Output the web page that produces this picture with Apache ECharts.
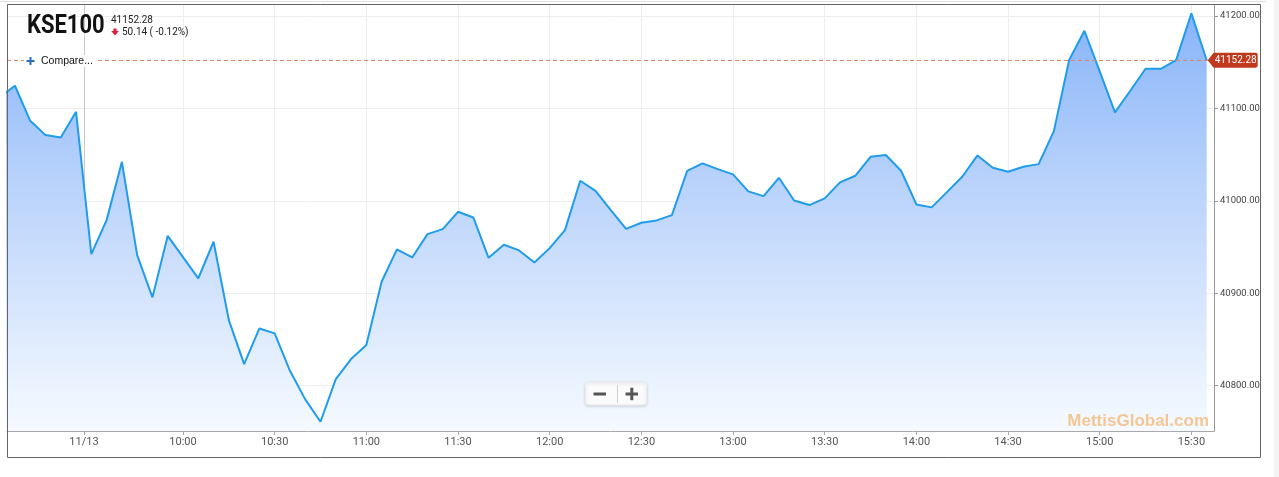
<!DOCTYPE html>
<html><head><meta charset="utf-8">
<script src="https://cdn.jsdelivr.net/npm/echarts@6/dist/echarts.min.js"></script>
<style>html,body{margin:0;padding:0;background:#fff;overflow:hidden}#c{width:1279px;height:477px;}</style>
</head><body><div id="c"></div>
<script>
// ---- data ----
const times = [
 '9:00','9:05','9:10','9:15','9:20','9:25','9:30','9:35','9:40','9:45','9:50','9:55',
 '10:00','10:05','10:10','10:15','10:20','10:25','10:30','10:35','10:40','10:45','10:50','10:55',
 '11:00','11:05','11:10','11:15','11:20','11:25','11:30','11:35','11:40','11:45','11:50','11:55',
 '12:00','12:05','12:10','12:15','12:20','12:25','12:30','12:35','12:40','12:45','12:50','12:55',
 '13:00','13:05','13:10','13:15','13:20','13:25','13:30','13:35','13:40','13:45','13:50','13:55',
 '14:00','14:05','14:10','14:15','14:20','14:25','14:30','14:35','14:40','14:45','14:50','14:55',
 '15:00','15:05','15:10','15:15','15:20','15:25','15:30','15:35'];
const values = [
 41112,41124.6,41086.7,41071.2,41068.7,41096.4,40942.4,40979.2,41042.3,40941.3,40895.6,40962.2,
 40939.2,40916.1,40955.8,40871,40823.4,40862,40856.6,40816.1,40785.2,40761,40807.1,40828.8,
 40844,40912.5,40947.5,40938.8,40964.1,40969.5,40988.2,40982.1,40938.4,40952.5,40946.4,40933.4,
 40948.9,40968.4,41021.8,41010.9,40990,40969.8,40976.3,40978.9,40984.6,41032.6,41040.6,41034.4,
 41028.7,41010.3,41005.2,41025,41000.5,40995.5,41002.7,41020,41027.2,41047.7,41049.6,41032.6,
 40996.2,40993,41009.5,41026.1,41049.2,41035.8,41031.5,41036.9,41039.8,41075.5,41152.4,41184.1,
 41140.2,41095.8,41119.2,41143,41143,41152.4,41202.9,41152.28];
const xTickValues = [567.6,600,630,660,690,720,750,780,810,840,870,900,930];
const xTickLabels = ['11/13','10:00','10:30','11:00','11:30','12:00','12:30','13:00','13:30','14:00','14:30','15:00','15:30'];
const yTickValues = [40800,40900,41000,41100,41200];
const lastPrice = 41152.28;
const symbolName = 'KSE100';
const changeText = '50.14 ( -0.12%)';

const toMin = t => { const p = t.split(':'); return (+p[0]) * 60 + (+p[1]); };
const seriesData = times.map((t, i) => [toMin(t), values[i]]);

const chart = echarts.init(document.getElementById('c'), null, {renderer: 'canvas'});
const splitColors = xTickValues.map((v, i) => i === 0 ? '#c9c9c9' : '#ededed');

chart.setOption({
  animation: false,
  backgroundColor: '#fff',
  grid: {left: 7, right: 65, top: 5, bottom: 46},
  xAxis: {
    type: 'value', min: 542.4, max: 937.4,
    axisLine: {show: true, lineStyle: {color: '#a8a8a8'}},
    axisTick: {show: true, customValues: xTickValues, length: 4, lineStyle: {color: '#a8a8a8'}},
    axisLabel: {
      customValues: xTickValues, color: '#555', fontSize: 11, fontFamily: 'Roboto', margin: 6,
      formatter: v => { const i = xTickValues.findIndex(x => Math.abs(x - v) < 0.01); return i >= 0 ? xTickLabels[i] : ''; }
    },
    splitLine: {show: true, lineStyle: {color: splitColors, width: 1}}
  },
  yAxis: {
    type: 'value', position: 'right', min: 40751, max: 41212,
    axisLine: {show: true, lineStyle: {color: '#999'}},
    axisTick: {show: true, customValues: yTickValues, length: 4, lineStyle: {color: '#999'}},
    axisLabel: {customValues: yTickValues, color: '#444', fontSize: 9.5, fontFamily: 'Roboto', margin: 6,
      formatter: v => v.toFixed(2)},
    splitLine: {show: true, lineStyle: {color: '#ededed'}}
  },
  series: [{
    type: 'line', data: seriesData, showSymbol: false, clip: true, silent: true,
    lineStyle: {color: '#1f9cec', width: 2},
    areaStyle: {opacity: 1, color: new echarts.graphic.LinearGradient(0, 0, 0, 1, [
      {offset: 0, color: '#88b4f9'}, {offset: 0.4, color: '#b8d2fb'}, {offset: 1, color: '#f6faff'}])},
    markLine: {
      silent: true, symbol: 'none', label: {show: false},
      lineStyle: {type: [4, 3], color: '#d98a6c', width: 1},
      data: [{yAxis: lastPrice}]
    },
    markPoint: {
      silent: true,
      data: [{
        coord: [935, lastPrice],
        symbol: 'path://M0,7 L6,0 L48,0 Q50,0 50,2 L50,12 Q50,14 48,14 L6,14 Z',
        symbolSize: [50, 15], symbolOffset: [26, 0],
        itemStyle: {color: '#c1391c'},
        label: {show: true, position: 'inside', offset: [3, 0], formatter: lastPrice.toFixed(2),
          color: '#fff', fontSize: 10, fontFamily: 'Roboto'}
      }]
    }
  }],
  graphic: [
    {type: 'line', shape: {x1: 0, y1: 1.5, x2: 1266, y2: 1.5}, style: {stroke: '#dedede', lineWidth: 1}, z: 100},
    {type: 'rect', shape: {x: 1274, y: 0, width: 5, height: 477}, style: {fill: '#f3f3f3'}, z: 100},
    {type: 'rect', shape: {x: 7.5, y: 4.5, width: 1253, height: 453}, style: {fill: 'none', stroke: '#666', lineWidth: 1}, z: 100},
    {type: 'text', x: 27, y: 26.5, scaleX: 0.845, style: {text: symbolName, font: 'bold 26px Roboto, sans-serif',
      fill: '#111', textVerticalAlign: 'middle'}, z: 100},
    {type: 'text', x: 111, y: 20.5, style: {text: lastPrice.toFixed(2), font: '10px Roboto', fill: '#222', textVerticalAlign: 'middle'}, z: 100},
    {type: 'polygon', shape: {points: [[113.5,28.5],[116.5,28.5],[116.5,31],[118.8,31],[115,35.5],[111.2,31],[113.5,31]]},
      style: {fill: '#e5173b'}, z: 100},
    {type: 'text', x: 122, y: 32.5, style: {text: changeText, font: '10px Roboto', fill: '#222', textVerticalAlign: 'middle'}, z: 100},
    {type: 'rect', shape: {x: 24, y: 55, width: 71, height: 12}, style: {fill: '#fff'}, z: 99},
    {type: 'rect', shape: {x: 26.5, y: 60, width: 8, height: 2}, style: {fill: '#2a6fc0'}, z: 100},
    {type: 'rect', shape: {x: 29.5, y: 57, width: 2, height: 8}, style: {fill: '#2a6fc0'}, z: 100},
    {type: 'text', x: 41, y: 61, style: {text: 'Compare...', font: '10.5px "Liberation Sans", Arial, sans-serif', fill: '#111', textVerticalAlign: 'middle'}, z: 100},
    {type: 'rect', shape: {x: 585.5, y: 382.5, width: 61, height: 22.5, r: 3},
      style: {fill: '#fbfbfb', stroke: '#eeeeee', lineWidth: 1, shadowBlur: 3, shadowColor: 'rgba(0,0,0,0.15)', shadowOffsetY: 1}, z: 100},
    {type: 'line', shape: {x1: 617.5, y1: 385, x2: 617.5, y2: 403}, style: {stroke: '#d0d0d0', lineWidth: 1}, z: 101},
    {type: 'rect', shape: {x: 593.5, y: 392.5, width: 12.5, height: 3}, style: {fill: '#555'}, z: 101},
    {type: 'rect', shape: {x: 625.5, y: 392.5, width: 12.5, height: 3}, style: {fill: '#555'}, z: 101},
    {type: 'rect', shape: {x: 630.3, y: 387.7, width: 3, height: 12.5}, style: {fill: '#555'}, z: 101},
    {type: 'text', x: 1209, y: 421, style: {text: 'MettisGlobal.com', font: 'bold 17px "Liberation Sans", Arial, sans-serif',
      fill: 'rgba(245,170,90,0.65)', textAlign: 'right', textVerticalAlign: 'middle'}, z: 100}
  ]
});
</script></body></html>
